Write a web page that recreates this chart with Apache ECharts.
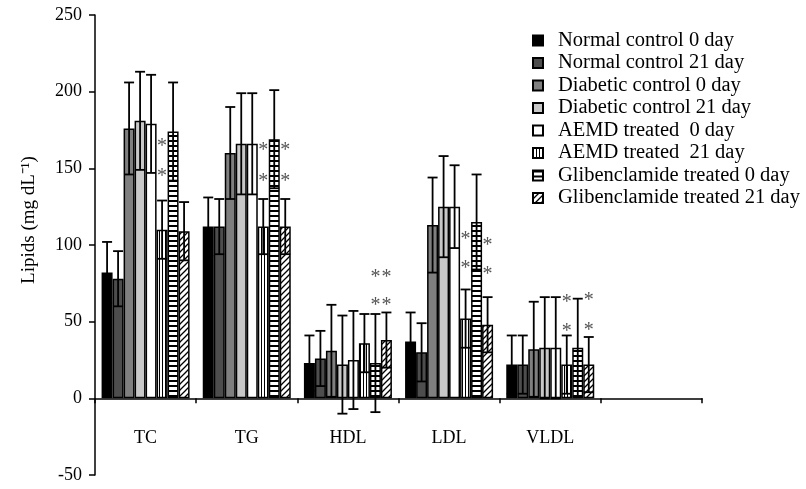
<!DOCTYPE html>
<html>
<head>
<meta charset="utf-8">
<script src="https://cdn.jsdelivr.net/npm/echarts@6/dist/echarts.min.js"></script>
<style>
  html, body { margin: 0; padding: 0; background: #fff; }
  #chart { width: 806px; height: 489px; }
</style>
</head>
<body>
<div id="chart"></div>
<script>
const categories = ['TC', 'TG', 'HDL', 'LDL', 'VLDL', '']
const seriesNames = [
  'Normal control 0 day',
  'Normal control 21 day',
  'Diabetic control 0 day',
  'Diabetic control 21 day',
  'AEMD treated  0 day',
  'AEMD treated  21 day',
  'Glibenclamide treated 0 day',
  'Glibenclamide treated 21 day'
]

// means, per lipid (TC, TG, HDL, LDL, VLDL)
const normal0Mean = [82, 112, 23, 37, 22]
const normal21Mean = [78, 112, 26, 30, 22]
const diabetic0Mean = [176, 160, 31, 113, 32]
const diabetic21Mean = [181, 166, 22, 125, 33]
const aemd0Mean = [179, 166, 25, 125, 33]
const aemd21Mean = [110, 112, 36, 52, 22]
const glib0Mean = [174, 169, 23, 115, 33]
const glib21Mean = [109, 112, 38, 48, 22]

// standard deviations
const normal0Sd = [20, 19, 18, 19, 19]
const normal21Sd = [18, 18, 18, 19, 19]
const diabetic0Sd = [30, 30, 30, 31, 31]
const diabetic21Sd = [32, 33, 32, 33, 33]
const aemd0Sd = [32, 33, 32, 27, 33]
const aemd21Sd = [19, 18, 19, 19, 19]
const glib0Sd = [32, 32, 32, 31, 32]
const glib21Sd = [19, 18, 18, 18, 18]

// significance marks: [lipid index, group index, value]
const starMarks = [
  [0, 5, 167], [0, 5, 147],
  [1, 5, 164], [1, 5, 144], [1, 7, 164], [1, 7, 144],
  [2, 6, 81], [2, 6, 63], [2, 7, 81], [2, 7, 63],
  [3, 5, 106], [3, 5, 87], [3, 7, 102], [3, 7, 83],
  [4, 5, 65], [4, 5, 46], [4, 7, 66], [4, 7, 47]
]

const yMin = -50
const yMax = 250
const yStep = 50

const allMeans = [normal0Mean, normal21Mean, diabetic0Mean, diabetic21Mean, aemd0Mean, aemd21Mean, glib0Mean, glib21Mean]
const allSds = [normal0Sd, normal21Sd, diabetic0Sd, diabetic21Sd, aemd0Sd, aemd21Sd, glib0Sd, glib21Sd]

const BAR_W = 11
const FONT = 'Liberation Serif'

const makePattern = (kind) => {
  const c = document.createElement('canvas')
  const ctx = c.getContext('2d')
  if (kind === 'v') {
    c.width = 3; c.height = 3
    ctx.fillStyle = '#fff'; ctx.fillRect(0, 0, 3, 3)
    ctx.fillStyle = '#000'; ctx.fillRect(0, 0, 1, 3)
  } else if (kind === 'h') {
    c.width = 5; c.height = 5
    ctx.fillStyle = '#fff'; ctx.fillRect(0, 0, 5, 5)
    ctx.fillStyle = '#000'; ctx.fillRect(0, 0, 5, 2)
  } else {
    c.width = 6; c.height = 6
    ctx.fillStyle = '#fff'; ctx.fillRect(0, 0, 6, 6)
    ctx.strokeStyle = '#000'; ctx.lineWidth = 1.3
    ctx.beginPath()
    ctx.moveTo(0, 6); ctx.lineTo(6, 0)
    ctx.moveTo(-3, 3); ctx.lineTo(3, -3)
    ctx.moveTo(3, 9); ctx.lineTo(9, 3)
    ctx.stroke()
  }
  return { image: c, repeat: 'repeat' }
}

const fills = ['#000000', '#4d4d4d', '#7f7f7f', '#c8c8c8', '#ffffff', makePattern('v'), makePattern('h'), makePattern('d')]

const chartInstance = echarts.init(document.getElementById('chart'))

const barSeries = seriesNames.map((name, i) => ({
  name,
  type: 'bar',
  data: allMeans[i],
  barWidth: BAR_W,
  barGap: '0%',
  itemStyle: { color: fills[i], borderColor: '#000', borderWidth: 1.5 },
  emphasis: { disabled: true },
  z: 2
}))

const errData = []
allMeans.forEach((arr, s) => {
  arr.forEach((m, c) => errData.push([c, s, m, allSds[s][c]]))
})

const errorSeries = {
  type: 'custom',
  name: 'error',
  data: errData,
  z: 5,
  silent: true,
  renderItem: (params, api) => {
    const c = api.value(0)
    const s = api.value(1)
    const m = api.value(2)
    const sd = api.value(3)
    const x = api.coord([c, m])[0] + (s - 3.5) * BAR_W
    const yt = api.coord([c, m + sd])[1]
    const yb = api.coord([c, m - sd])[1]
    const hw = 5
    const st = { stroke: '#000', lineWidth: 1.8 }
    return {
      type: 'group',
      children: [
        { type: 'line', shape: { x1: x, y1: yt, x2: x, y2: yb }, style: st },
        { type: 'line', shape: { x1: x - hw, y1: yt, x2: x + hw, y2: yt }, style: st },
        { type: 'line', shape: { x1: x - hw, y1: yb, x2: x + hw, y2: yb }, style: st }
      ]
    }
  }
}

const starSeries = {
  type: 'custom',
  name: 'stars',
  data: starMarks,
  z: 6,
  silent: true,
  renderItem: (params, api) => {
    const c = api.value(0)
    const s = api.value(1)
    const v = api.value(2)
    const p = api.coord([c, v])
    return {
      type: 'text',
      x: p[0] + (s - 3.5) * BAR_W,
      y: p[1] + 4,
      style: { text: '*', fill: '#555', font: '20px ' + FONT, align: 'center', verticalAlign: 'middle' }
    }
  }
}

const option = {
  animation: false,
  grid: { left: 95, right: 104, top: 15, bottom: 14, outerBoundsMode: 'none', containLabel: false },
  legend: {
    orient: 'vertical',
    left: 527,
    top: 25,
    icon: 'rect',
    itemWidth: 10,
    itemHeight: 10,
    itemGap: 1.5,
    data: seriesNames,
    textStyle: { fontFamily: FONT, fontSize: 20.5, color: '#000', lineHeight: 20, padding: [0, 0, 0, 10] },
    selectedMode: false
  },
  xAxis: {
    type: 'category',
    data: categories,
    axisLine: { onZero: true, lineStyle: { color: '#000', width: 1.5 } },
    axisTick: { show: true, length: 5, lineStyle: { color: '#000', width: 1.5 } },
    axisLabel: { margin: -46, fontFamily: FONT, fontSize: 18, color: '#000' }
  },
  yAxis: {
    type: 'value',
    min: yMin,
    max: yMax,
    interval: yStep,
    name: 'Lipids (mg dL\u207B\u00B9)',
    nameLocation: 'middle',
    nameGap: 56,
    nameTextStyle: { fontFamily: FONT, fontSize: 19, color: '#000', padding: [0, 0, 0, 50] },
    axisLine: { show: true, lineStyle: { color: '#000', width: 1.5 } },
    axisTick: { show: true, length: 6, lineStyle: { color: '#000', width: 1.5 } },
    axisLabel: { fontFamily: FONT, fontSize: 18, color: '#000', margin: 13 },
    splitLine: { show: false }
  },
  series: [...barSeries, errorSeries, starSeries]
}

chartInstance.setOption(option)
window.addEventListener('resize', () => chartInstance.resize())
</script>
</body>
</html>
